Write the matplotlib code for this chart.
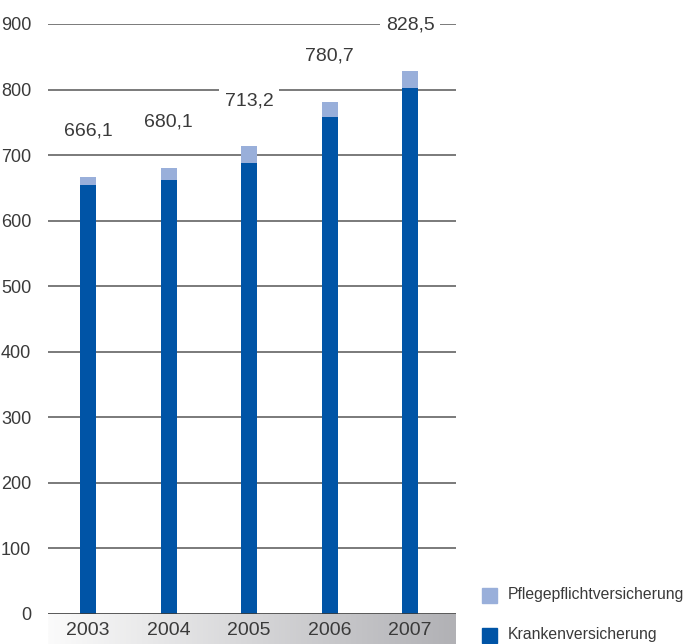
import numpy as np
import matplotlib
matplotlib.use("Agg")
import matplotlib.pyplot as plt
from matplotlib.colors import LinearSegmentedColormap
from matplotlib.patches import Rectangle

plt.rcParams['font.family'] = ['Liberation Sans Narrow', 'Liberation Sans', 'DejaVu Sans']

# Leistungsausgaben in Mio. Euro
years = ["2003", "2004", "2005", "2006", "2007"]
kranken = [654.0, 662.1, 688.2, 757.7, 802.0]
pflege = [12.1, 18.0, 25.0, 23.0, 26.5]
totals = [k + p for k, p in zip(kranken, pflege)]
y_ticks = [0, 100, 200, 300, 400, 500, 600, 700, 800, 900]

series_labels = ["Pflegepflichtversicherung", "Krankenversicherung"]
dark_blue = "#0054a6"
light_blue = "#99afda"
text_col = "#3a3a3a"

W, H = 691, 644
fig = plt.figure(figsize=(W / 100, H / 100), dpi=100)
ax = fig.add_axes([48 / W, 30 / H, 408 / W, 590 / H])

x = np.arange(len(years))

# horizontal guide lines
for t in y_ticks[1:]:
    ax.axhline(t, color="#636363", lw=1.2, zorder=1)
ax.axhline(0, color="#3c3c3c", lw=1.2, zorder=4)

ax.bar(x, kranken, width=0.2, color=dark_blue, zorder=2)
ax.bar(x, pflege, width=0.2, bottom=kranken, color=light_blue, zorder=2)

for xi, tot in zip(x, totals):
    ax.text(xi, tot + 70, f"{tot:.1f}".replace(".", ","), ha="center", va="center",
            fontsize=14, color=text_col, zorder=3,
            bbox=dict(facecolor="white", edgecolor="none", pad=4))

ax.set_xlim(-0.5, 4.57)
ax.set_ylim(0, 900)
ax.set_xticks(x)
ax.set_xticklabels(years, fontsize=14, color=text_col)
ax.set_yticks(y_ticks)
ax.set_yticklabels([str(t) for t in y_ticks], fontsize=13, color=text_col)
ax.tick_params(axis="x", length=0, pad=6)
ax.tick_params(axis="y", length=0, pad=12)
for s in ax.spines.values():
    s.set_visible(False)
ax.patch.set_alpha(0)

# grey gradient band under the year labels
band = fig.add_axes([48 / W, 0, 408 / W, 30 / H], zorder=-1)
cmap = LinearSegmentedColormap.from_list("band", ["#fbfbfb", "#b1b1b5"])
band.imshow(np.linspace(0, 1, 256).reshape(1, -1), cmap=cmap, aspect="auto",
            extent=(0, 1, 0, 1))
band.set_axis_off()

# legend
for i, (lab, col) in enumerate(zip(series_labels, [light_blue, dark_blue])):
    yc = 595 + i * 40
    fig.add_artist(Rectangle((482 / W, 1 - (yc + 7.5) / H), 15 / W, 15 / H,
                             transform=fig.transFigure, color=col))
    fig.text(508 / W, 1 - yc / H, lab, ha="left", va="center", fontsize=11.3,
             color=text_col)

fig.savefig("out.png", dpi=100)
